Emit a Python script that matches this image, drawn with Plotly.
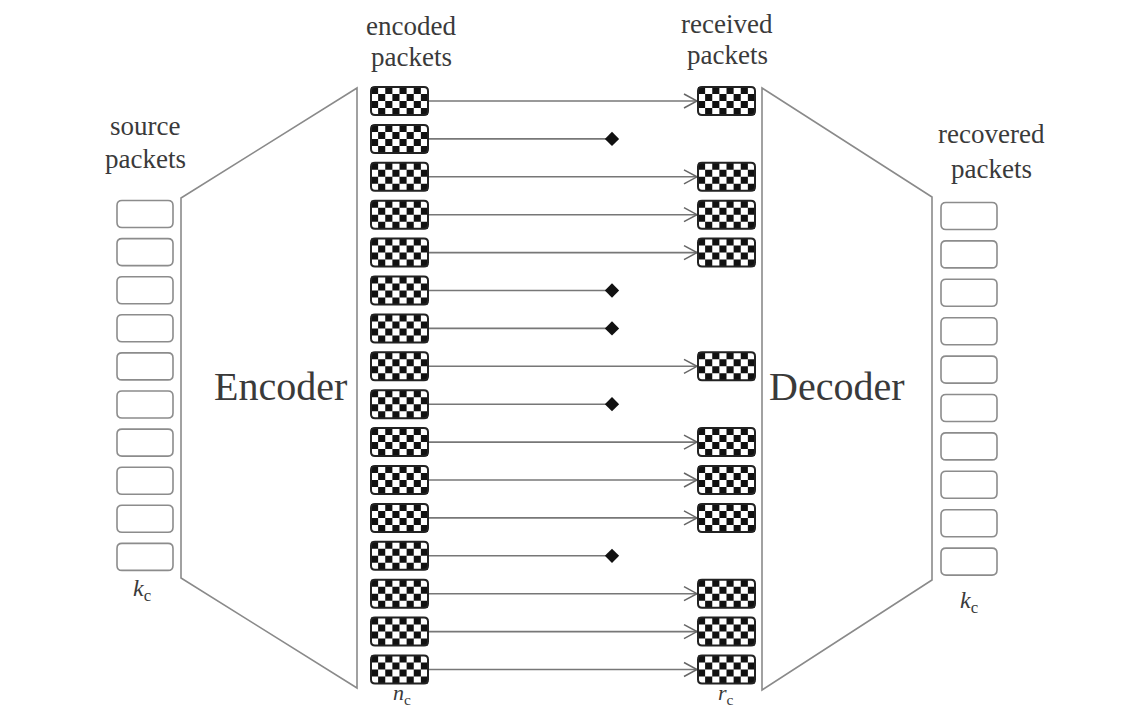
import plotly.graph_objects as go

# ---- data ----
packet_status = ["received", "lost", "received", "received", "received", "lost", "lost",
                 "received", "lost", "received", "received", "received", "lost",
                 "received", "received", "received"]          # n_c encoded packets
n_source = 10                                                 # k_c source packets
n_recovered = 10                                              # k_c recovered packets
labels_top = {"source": ["source", "packets"], "encoded": ["encoded", "packets"],
              "received": ["received", "packets"], "recovered": ["recovered", "packets"]}
block_names = ["Encoder", "Decoder"]
count_labels = ["<i>k</i><sub>c</sub>", "<i>n</i><sub>c</sub>", "<i>r</i><sub>c</sub>", "<i>k</i><sub>c</sub>"]

# ---- layout geometry ----
W, H = 1143, 716
PAD = 8  # page body margin
FONT = "Liberation Serif, Times New Roman, serif"
TXT = "#3a3a3a"
LINE = "#8a8a8a"

shapes = []
annotations = []


def rounded_path(x0, y0, x1, y1, r):
    return (f"M {x0+r},{y0} L {x1-r},{y0} Q {x1},{y0} {x1},{y0+r} "
            f"L {x1},{y1-r} Q {x1},{y1} {x1-r},{y1} L {x0+r},{y1} "
            f"Q {x0},{y1} {x0},{y1-r} L {x0},{y0+r} Q {x0},{y0} {x0+r},{y0} Z")


def checker_packet(x0, yc):
    w, h = 57, 28
    y0 = yc - h / 2
    cw, ch = w / 8, h / 4
    parts = []
    for r in range(4):
        for c in range(8):
            if (r + c) % 2 == 0:
                xa, ya = x0 + c * cw, y0 + r * ch
                parts.append(f"M {xa:.2f},{ya:.2f} H {xa+cw:.2f} V {ya+ch:.2f} H {xa:.2f} Z")
    shapes.append(dict(type="path", xref="x", yref="y", path=" ".join(parts),
                       fillcolor="#111", line=dict(width=0)))
    shapes.append(dict(type="path", xref="x", yref="y",
                       path=rounded_path(x0, y0, x0 + w, y0 + h, 4),
                       fillcolor="rgba(0,0,0,0)", line=dict(color="#222", width=2)))


def empty_packet(x0, yc):
    w, h = 56, 27
    shapes.append(dict(type="path", xref="x", yref="y",
                       path=rounded_path(x0, yc - h / 2, x0 + w, yc + h / 2, 5),
                       fillcolor="white", line=dict(color="#8c8c8c", width=1.6)))


fig = go.Figure()

# source packets
src_y0, src_dy = 214, 38.1
for i in range(n_source):
    empty_packet(117, src_y0 + i * src_dy)

# recovered packets
rec_y0, rec_dy = 216, 38.4
for i in range(n_recovered):
    empty_packet(941, rec_y0 + i * rec_dy)

# encoder / decoder outlines
shapes.append(dict(type="path", xref="x", yref="y",
                   path="M 357,88 L 181,198 L 181,578 L 357,688 Z",
                   line=dict(color=LINE, width=1.6)))
shapes.append(dict(type="path", xref="x", yref="y",
                   path="M 762,88 L 932,197 L 932,580 L 762,690 Z",
                   line=dict(color=LINE, width=1.6)))

# encoded / received packets and channel
enc_y0, enc_dy = 101, 37.9
lx, ly, dx, dy = [], [], [], []
for i, st in enumerate(packet_status):
    yc = enc_y0 + i * enc_dy
    checker_packet(371, yc)
    if st == "received":
        lx += [428, 697, None]
        ly += [yc, yc, None]
        shapes.append(dict(type="path", xref="x", yref="y",
                           path=f"M 684,{yc-7} L 697,{yc} L 684,{yc+7}",
                           line=dict(color="#666", width=1.5)))
        checker_packet(698, yc)
    else:
        lx += [428, 612, None]
        ly += [yc, yc, None]
        dx.append(612)
        dy.append(yc)

fig.add_trace(go.Scatter(x=lx, y=ly, mode="lines", line=dict(color="#777", width=1.6),
                         hoverinfo="skip", showlegend=False))
fig.add_trace(go.Scatter(x=dx, y=dy, mode="markers",
                         marker=dict(symbol="diamond", size=11, color="#111"),
                         hoverinfo="skip", showlegend=False))

# labels
def label(x, y, text, size=27, color=TXT):
    annotations.append(dict(x=x, y=y, xref="x", yref="y", text=text, showarrow=False,
                            font=dict(family=FONT, size=size, color=color),
                            xanchor="center", yanchor="middle"))

for (key, (x, y1, y2)) in zip(["source", "encoded", "received", "recovered"],
                               [(145, 126, 159), (411, 26, 57), (727, 24, 55), (991, 134, 169)]):
    label(x, y1, labels_top[key][0])
    label(x, y2, labels_top[key][1])

label(280, 386, block_names[0], size=40)
label(836, 386, block_names[1], size=40)

for (x, y), t, s in zip([(142, 590), (402, 694), (726, 694), (969, 602)], count_labels,
                        [24, 22, 22, 24]):
    label(x, y, t, size=s)

# figure sized to fit inside the page's 8px body margin; axis ranges offset so
# data units equal window pixels
fig.update_layout(
    width=W - 2 * PAD, height=H - 2 * PAD, margin=dict(l=0, r=0, t=0, b=0),
    plot_bgcolor="white", paper_bgcolor="white",
    xaxis=dict(range=[PAD, W - PAD], visible=False, fixedrange=True),
    yaxis=dict(range=[H - PAD, PAD], visible=False, fixedrange=True),
    shapes=shapes, annotations=annotations, showlegend=False,
)

fig.write_html("out.html")
